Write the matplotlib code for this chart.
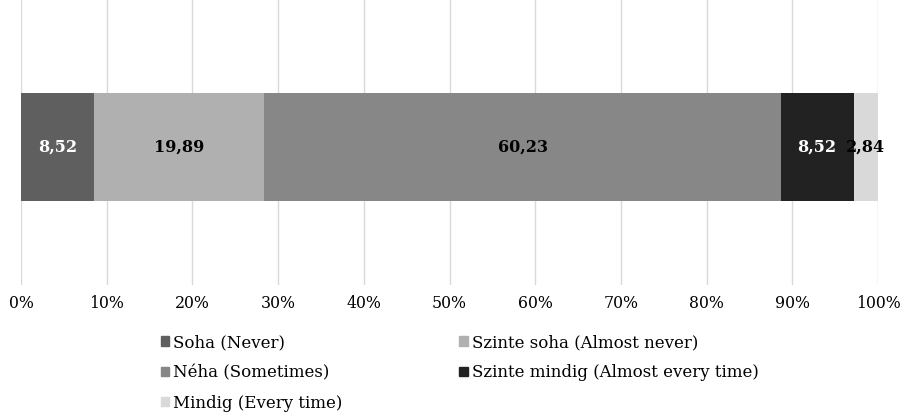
import matplotlib.pyplot as plt
from matplotlib.patches import Patch

# data
categories = ['Soha (Never)', 'Szinte soha (Almost never)', 'Néha (Sometimes)',
              'Szinte mindig (Almost every time)', 'Mindig (Every time)']
values = [8.52, 19.89, 60.23, 8.52, 2.84]
labels = ['8,52', '19,89', '60,23', '8,52', '2,84']
colors = ['#5f5f5f', '#b0b0b0', '#878787', '#222222', '#d9d9d9']
text_colors = ['white', 'black', 'black', 'white', 'black']
ticks = [0, 10, 20, 30, 40, 50, 60, 70, 80, 90, 100]

plt.rcParams['font.family'] = ['DejaVu Serif']

fig = plt.figure(figsize=(9.03, 4.2), dpi=100)
ax = fig.add_axes([0.0233, 0.321, 0.949, 0.679])

left = 0
for v, lab, c, tc in zip(values, labels, colors, text_colors):
    ax.barh(0, v, left=left, height=0.76, color=c, zorder=2)
    ax.text(left + v / 2, 0, lab, ha='center', va='center', color=tc,
            fontsize=11.5, fontweight='bold', zorder=3)
    left += v

ax.set_xlim(0, 100)
ax.set_ylim(-0.968, 1.032)
ax.set_xticks(ticks)
ax.set_xticklabels([f'{t}%' for t in ticks], fontsize=11.3)
ax.set_yticks([])
ax.tick_params(axis='x', length=0, pad=7)
ax.grid(axis='x', color='#d9d9d9', linewidth=1, zorder=0)
for s in ax.spines.values():
    s.set_visible(False)

# legend, row-major order
order = [0, 2, 4, 1, 3]
handles = [Patch(color=colors[i], label=categories[i]) for i in order]
fig.legend(handles=handles, ncol=2, loc='upper left', bbox_to_anchor=(0.178, 0.205),
           frameon=False, fontsize=12, handlelength=0.5, handleheight=0.5,
           handletextpad=0.25, labelspacing=0.8, columnspacing=7.0,
           borderaxespad=0, borderpad=0)

fig.savefig('out.png', dpi=100)
